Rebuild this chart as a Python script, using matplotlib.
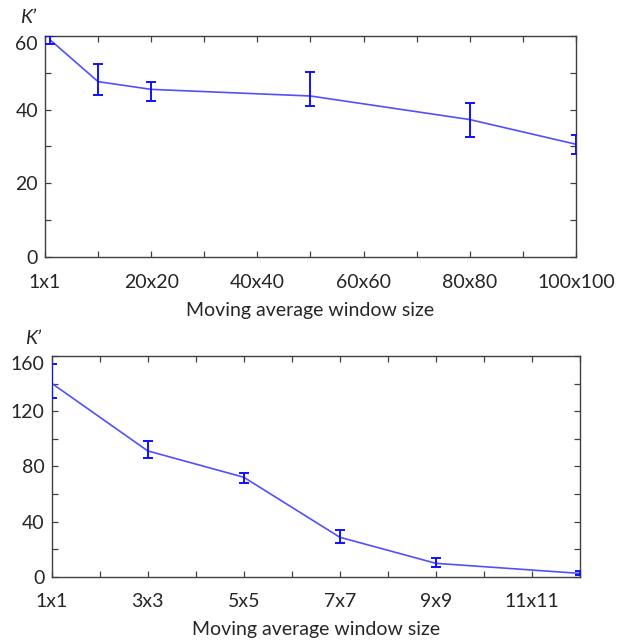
import numpy as np
import matplotlib.pyplot as plt
from matplotlib.ticker import MultipleLocator, FixedLocator, FixedFormatter

plt.rcParams['font.family'] = ['Lato', 'DejaVu Sans']

# Pannello superiore: finestre grandi
w_big = [1, 10, 20, 50, 80, 100]
k_big = [58.9, 47.6, 45.5, 43.7, 37.3, 30.6]
lo_big = [1.0, 3.5, 3.2, 2.8, 4.6, 2.7]
hi_big = [1.0, 4.8, 2.1, 6.4, 4.6, 2.5]
tick_big = [0, 20, 40, 60, 80, 100]
lab_big = ['1x1', '20x20', '40x40', '60x60', '80x80', '100x100']

# Pannello inferiore: finestre piccole
w_small = [1, 3, 5, 7, 9, 12]
k_small = [140.2, 91.2, 72.1, 28.6, 9.7, 2.4]
lo_small = [10.4, 5.4, 3.9, 4.4, 2.9, 1.4]
hi_small = [13.8, 7.2, 3.3, 5.3, 3.6, 1.4]
tick_small = [1, 3, 5, 7, 9, 11]
lab_small = ['1x1', '3x3', '5x5', '7x7', '9x9', '11x11']

line_col = '#5050ff'
err_col = '#1010ff'
spine_col = '#404040'
txt_col = '#262626'
fs = 14

fig = plt.figure(figsize=(6.38, 6.42), dpi=100)
ax1 = fig.add_axes([0.0705, 0.5997, 0.8323, 0.3443])
ax2 = fig.add_axes([0.081, 0.1017, 0.828, 0.3438])


def disegna(ax, x, y, lo, hi, xt, xl, xmin, xmax, ymax, ystep, xminor):
    ax.plot(x, y, color=line_col, lw=1.2, zorder=2)
    ax.errorbar(x, y, yerr=[lo, hi], fmt='none', ecolor=err_col, elinewidth=1.4,
                capsize=3.6, capthick=1.4, zorder=3)
    ax.set_xlim(xmin, xmax)
    ax.set_ylim(0, ymax)
    ax.xaxis.set_major_locator(FixedLocator(xt))
    ax.xaxis.set_major_formatter(FixedFormatter(xl))
    ax.xaxis.set_minor_locator(MultipleLocator(xminor))
    ax.yaxis.set_major_locator(FixedLocator(np.arange(0, ymax + 1, 2 * ystep)))
    ax.yaxis.set_minor_locator(MultipleLocator(ystep))
    ax.tick_params(which='both', direction='in', top=True, right=True,
                   length=4.5, width=0.9, color=spine_col, labelsize=fs,
                   labelcolor=txt_col)
    ax.tick_params(axis='x', pad=12)
    ax.tick_params(axis='y', pad=5)
    for s in ax.spines.values():
        s.set_color(spine_col)
        s.set_linewidth(1.0)
    ax.set_xlabel('Moving average window size', fontsize=fs, color=txt_col, labelpad=8)
    # l'etichetta in cima sta sotto il bordo dell'asse
    ax.yaxis.get_major_ticks()[-1].label1.set_verticalalignment('top')


disegna(ax1, w_big, k_big, lo_big, hi_big, tick_big, lab_big, 0, 100, 60, 10, 10)
disegna(ax2, w_small, k_small, lo_small, hi_small, tick_small, lab_small, 1, 12, 160, 20, 1)

fig.text(0.031, 0.973, 'K’', fontsize=fs, style='italic', color=txt_col, va='center')
fig.text(0.04, 0.473, 'K’', fontsize=fs, style='italic', color=txt_col, va='center')

fig.savefig('out.png', dpi=100)
